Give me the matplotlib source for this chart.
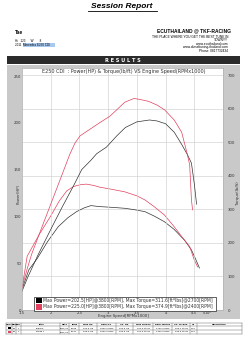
import matplotlib
matplotlib.use('Agg')
import matplotlib.pyplot as plt
from matplotlib.patches import Rectangle
from matplotlib.lines import Line2D

plt.rcParams['font.family'] = ['DejaVu Sans']

# ---- data read from the dyno sheet ----
black_power_rpm = [1.5, 1.6, 1.78, 2.0, 2.2, 2.4, 2.54, 2.7, 2.8, 2.97, 3.15, 3.3, 3.5, 3.72,
                   3.85, 4.0, 4.15, 4.28, 4.38, 4.45, 4.5, 4.54]
black_power_hp = [20, 35, 59, 86, 110, 133, 150, 160, 167, 174, 186, 195, 201, 203,
                  202, 199, 190, 177, 166, 157, 135, 113]

red_power_rpm = [1.5, 1.59, 1.67, 1.8, 2.0, 2.2, 2.33, 2.42, 2.51, 2.68, 2.85, 3.03, 3.29, 3.45,
                 3.55, 3.7, 3.85, 3.98, 4.15, 4.28, 4.38, 4.42, 4.45, 4.47]
red_power_hp = [24, 44, 60, 81, 113, 145, 166, 178, 186, 193, 200, 207, 222, 226,
                225, 223, 219, 214, 203, 190, 166, 155, 118, 107]

black_torque_rpm = [1.5, 1.62, 1.76, 1.95, 2.13, 2.3, 2.45, 2.58, 2.7, 2.85, 3.05, 3.29, 3.45,
                    3.64, 3.8, 3.98, 4.15, 4.33, 4.45, 4.53, 4.59]
black_torque = [62, 120, 152, 205, 248, 275, 293, 304, 311, 308, 306, 303, 299,
                293, 280, 263, 240, 208, 179, 149, 125]

red_torque_rpm = [1.5, 1.59, 1.8, 2.0, 2.15, 2.28, 2.4, 2.51, 2.62, 2.75, 2.85, 3.05, 3.29, 3.5,
                  3.64, 3.8, 3.98, 4.15, 4.33, 4.42, 4.5, 4.56]
red_torque = [65, 160, 225, 280, 325, 355, 368, 373, 375, 371, 366, 360, 352, 340,
              328, 308, 283, 248, 208, 189, 149, 128]

x_ticks = [1.5, 2, 2.5, 3, 3.5, 4, 4.5]
hp_ticks = [0, 50, 100, 150, 200, 250]
tq_ticks = [0, 100, 200, 300, 400, 500, 600, 700]

legend_rows = ['Max Power=202.5[HP]@3800[RPM], Max Torque=311.6[ft*lbs]@2700[RPM]',
               'Max Power=225.0[HP]@3800[RPM], Max Torque=374.9[ft*lbs]@2400[RPM]']

table_header = ['Color', 'Run', 'Pull', 'Title', 'Date', 'Time', 'Max HP', 'Rpm HP', 'Av. HP',
                'Max Torque', 'Rpm Torque', 'Av. Torque', 'CF', 'Description']
table_rows = [['', '66', '1', 'original', '2011/12', '20:05', '202.5 HP', '3800.0 RPM', '164.5 HP',
               '311.6 ft*lbs', '2700.0 RPM', '263.1 ft*lbs', '1.00', ''],
              ['', '66', '1', 'stage 1', '2011/12', '20:17', '225.0 HP', '3800.0 RPM', '180.5 HP',
               '374.9 ft*lbs', '2400.0 RPM', '293.5 ft*lbs', '1.00', '']]

BLACK = '#333333'
RED = '#e2415f'
GREY = '#c9c9c9'

W, H = 250, 341


def fx(px):
    return px / W


def fy(py):
    return 1 - py / H


def box(x0, y0, x1, y1, **kw):
    fig.patches.append(Rectangle((fx(x0), fy(y1)), fx(x1) - fx(x0), fy(y0) - fy(y1),
                                 transform=fig.transFigure, figure=fig, **kw))


def hline(x0, x1, y, **kw):
    fig.lines.append(Line2D([fx(x0), fx(x1)], [fy(y), fy(y)], transform=fig.transFigure, **kw))


def vline(x, y0, y1, **kw):
    fig.lines.append(Line2D([fx(x), fx(x)], [fy(y0), fy(y1)], transform=fig.transFigure, **kw))


fig = plt.figure(figsize=(W / 100, H / 100), dpi=100)
fig.patch.set_facecolor('white')

# header
fig.text(fx(122), fy(6), 'Session Report', fontsize=6, fontweight='bold', fontstyle='italic',
         family='Liberation Sans', ha='center', va='center')
hline(88, 157, 10.6, color='black', lw=0.6)

fig.text(fx(15), fy(32), 'Tae', fontsize=3.6, fontweight='bold', family='Liberation Sans',
         va='center')
fig.text(fx(15), fy(41), 'Hi   123      W       8', fontsize=2.2, family='Liberation Sans',
         va='center')
box(23, 43.3, 55, 46.7, facecolor='#a9c8ee', edgecolor='none', zorder=-10)
fig.text(fx(15), fy(45), '2011  Mercedes E250 CDI', fontsize=2.2, family='Liberation Sans',
         va='center')

fig.text(fx(231), fy(31), 'ECUTHAILAND @ TKF-RACING', fontsize=3.5, fontweight='bold',
         family='Liberation Sans', ha='right', va='center')
small = ['THE PLACE WHERE YOU GET THE BEST TUNE IN', 'TOWN!!!!', 'www.ecuthailand.com',
         'www.dieseltuning-thailand.com', 'Phone: 0817732434']
for yy, s in zip([36.5, 40, 43.7, 47.3, 51], small):
    fig.text(fx(228), fy(yy), s, fontsize=2.3, family='Liberation Sans', ha='right', va='center')

# results bar and grey panel (behind the axes)
box(7, 56.5, 240, 63.5, facecolor='#2b2b2b', edgecolor='none', zorder=-10)
fig.text(fx(122.5), fy(60.2), 'R E S U L T S', fontsize=3.6, fontweight='bold', color='white',
         ha='center', va='center')
box(7, 64.5, 240, 319, facecolor=GREY, edgecolor='none', zorder=-10)

# chart
ax = fig.add_axes([fx(22), fy(310), fx(223) - fx(22), fy(68) - fy(310)])
ax2 = ax.twinx()
ax2.set_zorder(0)
ax.set_zorder(1)
ax.patch.set_visible(False)
ax2.patch.set_visible(True)
ax2.patch.set_facecolor('white')

ax.plot(black_power_rpm, black_power_hp, color=BLACK, lw=0.5)
ax.plot(red_power_rpm, red_power_hp, color=RED, lw=0.5)
ax2.plot(black_torque_rpm, black_torque, color=BLACK, lw=0.5)
ax2.plot(red_torque_rpm, red_torque, color=RED, lw=0.5)

ax.set_xlim(1.5, 5.0)
ax.set_ylim(0, 242 / 0.936)
ax2.set_ylim(0, 242 / 0.3357)

ax.set_xticks(x_ticks)
ax.set_xticklabels(['1.5', '2', '2.5', '3', '3.5', '4', '4.5'])
ax.set_yticks(hp_ticks)
ax2.set_yticks(tq_ticks)
ax.xaxis.grid(True, color='#d4d4d4', lw=0.5)
ax2.yaxis.grid(True, color='#d4d4d4', lw=0.5)
ax.set_axisbelow(True)
ax.tick_params(axis='x', length=0, labelsize=2.8, pad=0.8, colors='#333333')
ax.tick_params(axis='y', length=0, labelsize=2.8, pad=0.6, colors='#333333')
ax2.tick_params(axis='y', length=0, labelsize=2.8, pad=3.5, colors='#333333')
for a in (ax, ax2):
    for sp in a.spines.values():
        sp.set_color('#b5b5b5')
        sp.set_linewidth(0.4)

fig.text(fx(123.5), fy(71.5), 'E250 CDI  : Power(HP) & Torque(lb/ft) VS Engine Speed(RPMx1000)',
         fontsize=3.5, color='#333333', ha='center', va='center')
fig.text(fx(18.5), fy(194), 'Power(HP)', fontsize=2.8, rotation=90, ha='center', va='center',
         color='#333333')
fig.text(fx(238), fy(193), 'Torque(lb/ft)', fontsize=2.8, rotation=90, ha='center', va='center',
         color='#333333')
fig.text(fx(123.5), fy(316.5), 'Engine Speed[RPMx1000]', fontsize=2.8, ha='center', va='center',
         color='#333333')
fig.text(fx(207), fy(313), r'x10$^3$', fontsize=2.6, ha='center', va='center', color='#333333')

# legend box
box(34, 297, 216, 311, facecolor='white', edgecolor='#222222', lw=0.5, zorder=5)
box(35.5, 298.3, 41.5, 303.2, facecolor='black', edgecolor='none', zorder=6)
box(35.5, 304.3, 41.5, 309.5, facecolor=RED, edgecolor='none', zorder=6)
for yy, s in zip([300.9, 306.8], legend_rows):
    fig.text(fx(43), fy(yy), s, fontsize=3.25, color='#333333', va='center', zorder=7)

# run table
col_edges = [6, 12, 16, 21, 60, 69, 79, 97, 116, 133, 153, 172, 190, 197, 242]
row_edges = [323, 326.3, 330, 333.7]
for yy in row_edges:
    hline(col_edges[0], col_edges[-1], yy, color='#555555', lw=0.3)
for xx in col_edges:
    vline(xx, row_edges[0], row_edges[-1], color='#555555', lw=0.3)
for j, s in enumerate(table_header):
    fig.text(fx((col_edges[j] + col_edges[j + 1]) / 2), fy((row_edges[0] + row_edges[1]) / 2), s,
             fontsize=1.6, fontweight='bold', ha='center', va='center')
for i, row in enumerate(table_rows):
    yc = (row_edges[i + 1] + row_edges[i + 2]) / 2
    for j, s in enumerate(row):
        fig.text(fx((col_edges[j] + col_edges[j + 1]) / 2), fy(yc), s, fontsize=1.6,
                 ha='center', va='center')
box(7.5, 327, 10.5, 329.3, facecolor='black', edgecolor='none')
box(7.5, 330.7, 10.5, 333, facecolor=RED, edgecolor='none')

fig.savefig('out.png', dpi=100)
